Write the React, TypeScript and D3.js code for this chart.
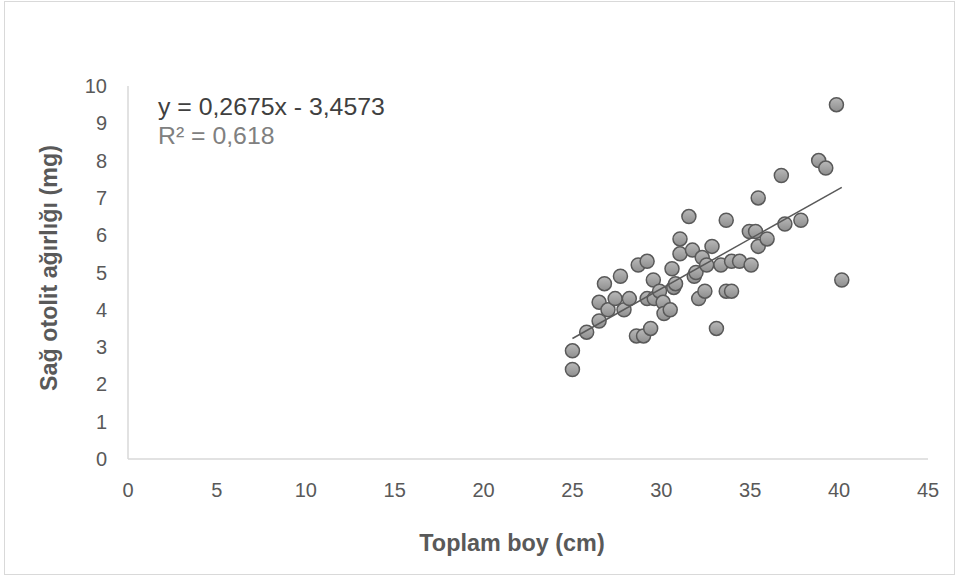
import React from "react";
import * as d3 from "d3";

const xValues: number[] = [
  25.0, 25.0, 25.8, 26.5, 26.5, 26.8, 27.0, 27.4, 27.7, 27.9,
  28.2, 28.6, 29.0, 29.4, 28.7, 29.2, 29.2, 29.6, 29.55, 29.9,
  30.1, 30.15, 30.5, 30.6, 30.7, 30.8, 31.05, 31.05, 31.55, 31.75,
  31.85, 31.95, 32.1, 32.3, 32.45, 32.55, 32.85, 33.1, 33.35, 33.65,
  33.65, 33.95, 33.95, 34.4, 34.95, 35.05, 35.3, 35.45, 35.45, 35.95,
  36.75, 36.95, 37.85, 38.85, 39.25, 39.85, 40.15,
];
const yValues: number[] = [
  2.4, 2.9, 3.4, 3.7, 4.2, 4.7, 4.0, 4.3, 4.9, 4.0,
  4.3, 3.3, 3.3, 3.5, 5.2, 5.3, 4.3, 4.3, 4.8, 4.5,
  4.2, 3.9, 4.0, 5.1, 4.6, 4.7, 5.9, 5.5, 6.5, 5.6,
  4.9, 5.0, 4.3, 5.4, 4.5, 5.2, 5.7, 3.5, 5.2, 6.4,
  4.5, 4.5, 5.3, 5.3, 6.1, 5.2, 6.1, 7.0, 5.7, 5.9,
  7.6, 6.3, 6.4, 8.0, 7.8, 9.5, 4.8,
];
const xTicks: number[] = [0, 5, 10, 15, 20, 25, 30, 35, 40, 45];
const yTicks: number[] = [0, 1, 2, 3, 4, 5, 6, 7, 8, 9, 10];
const slope = 0.2675;
const intercept = -3.4573;
const equationText = "y = 0,2675x - 3,4573";
const r2Label = "R² = 0,618";
const xTitle = "Toplam boy (cm)";
const yTitle = "Sağ otolit  ağırlığı (mg)";

export default function App() {
  const W = 959;
  const H = 578;
  const x = d3.scaleLinear().domain([0, 45]).range([128, 928]);
  const y = d3.scaleLinear().domain([0, 10]).range([459, 86]);
  const font = "'Liberation Sans', Arial, sans-serif";
  const points = xValues.map((v, i) => [v, yValues[i]] as [number, number]);
  const xMin = d3.min(xValues) as number;
  const xMax = d3.max(xValues) as number;
  const line = d3
    .line<number>()
    .x((d) => x(d))
    .y((d) => y(slope * d + intercept));

  return (
    <svg
      width={W}
      height={H}
      style={{ position: "absolute", left: 0, top: 0, background: "#fff" }}
      fontFamily={font}
    >
      <defs>
        <linearGradient id="mk" x1="0" y1="0" x2="0" y2="1">
          <stop offset="0%" stopColor="#b9b9b9" />
          <stop offset="100%" stopColor="#8e8e8e" />
        </linearGradient>
      </defs>
      <rect x={4.5} y={1.5} width={950} height={573} fill="#fff" stroke="#d9d9d9" strokeWidth={1} />
      {/* axes */}
      <line x1={x(0)} x2={x(0)} y1={y(10)} y2={y(0)} stroke="#d9d9d9" strokeWidth={1.5} />
      <line x1={x(0)} x2={x(45)} y1={y(0)} y2={y(0)} stroke="#d9d9d9" strokeWidth={1.5} />
      {yTicks.map((t) => (
        <text key={"y" + t} x={107} y={y(t) + 7} textAnchor="end" fontSize={20} fill="#595959">
          {t}
        </text>
      ))}
      {xTicks.map((t) => (
        <text key={"x" + t} x={x(t)} y={497} textAnchor="middle" fontSize={20} fill="#595959">
          {t}
        </text>
      ))}
      <text x={512} y={551} textAnchor="middle" fontSize={23.4} fontWeight="bold" fill="#595959">
        {xTitle}
      </text>
      <text
        transform={`translate(57,268) rotate(-90)`}
        textAnchor="middle"
        fontSize={23.3}
        fontWeight="bold"
        fill="#595959"
      >
        {yTitle}
      </text>
      {/* points */}
      {points.map(([a, b], i) => (
        <circle key={i} cx={x(a)} cy={y(b)} r={7} fill="url(#mk)" stroke="#595959" strokeWidth={1.5} />
      ))}
      {/* trendline */}
      <path d={line([xMin, xMax]) || ""} stroke="#595959" strokeWidth={1.5} fill="none" />
      <text x={158} y={115} fontSize={24.8} fill="#404040">
        {equationText}
      </text>
      <text x={158} y={144} fontSize={24.8} fill="#808080">
        {r2Label}
      </text>
    </svg>
  );
}
